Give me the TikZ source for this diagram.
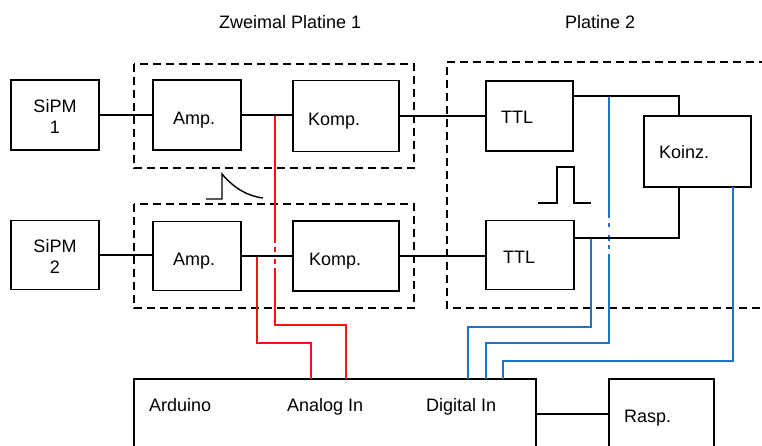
\documentclass[tikz,border=0pt]{standalone}
\usepackage{fontspec}
\setmainfont{Liberation Sans}
\usetikzlibrary{calc}
\definecolor{sigred}{RGB}{245,20,20}
\definecolor{sigblue}{RGB}{30,115,200}
\begin{document}
\begin{tikzpicture}[x=1pt,y=-1pt,
  box/.style={draw, line width=1.6pt, inner sep=0pt, outer sep=0pt},
  wire/.style={line width=1.6pt},
  frame/.style={line width=1.4pt, dash pattern=on 8pt off 5pt},
  rwire/.style={line width=1.6pt, draw=sigred},
  bwire/.style={line width=1.6pt, draw=sigblue},
  pulse/.style={line width=1.4pt},
  lbl/.style={inner sep=0pt, anchor=base west, font=\fontsize{18}{20}\selectfont},
  clbl/.style={inner sep=0pt, anchor=base, font=\fontsize{18}{20}\selectfont},
]
\useasboundingbox (0,0) rectangle (762,445);
\clip (0,0) rectangle (762,445);

% boxes
\node[box, minimum width=88pt, minimum height=70pt] (sipm1) at (55,115) {};
\node[box, minimum width=88pt, minimum height=70pt] (amp1) at (197,115) {};
\node[box, minimum width=106pt, minimum height=71pt] (komp1) at (346,116) {};
\node[box, minimum width=87pt, minimum height=70pt] (ttl1) at (529.5,116) {};
\node[box, minimum width=107pt, minimum height=71pt] (koinz) at (697.5,151.5) {};
\node[box, minimum width=88pt, minimum height=69pt] (sipm2) at (55,255) {};
\node[box, minimum width=88pt, minimum height=69pt] (amp2) at (197,256) {};
\node[box, minimum width=106pt, minimum height=70pt] (komp2) at (346,256) {};
\node[box, minimum width=88pt, minimum height=69pt] (ttl2) at (530,255) {};
\node[box, minimum width=402pt, minimum height=82pt] (arduino) at (335,420) {};
\node[box, minimum width=105pt, minimum height=82pt] (rasp) at (661.5,420) {};

% dashed frames
\draw[frame] (134,64) rectangle (414,168);
\draw[frame] (134,204) rectangle (414,308);
\draw[frame] (780,62) -- (447,62) -- (447,308) -- (780,308);

% helper coordinates
\coordinate (t1o) at (573,96);
\coordinate (t2o) at (574,238);
\coordinate (kin1) at ($(koinz.north west)+(35,0)$);
\coordinate (kin2) at ($(koinz.south west)+(35,0)$);
\coordinate (kout) at ($(koinz.south west)+(89,0)$);
\coordinate (ar) at (536,414);
\coordinate (ra) at (609,414);
\coordinate (ain1) at ($(arduino.north west)+(212,0)$);
\coordinate (ain2) at ($(arduino.north west)+(177,0)$);
\coordinate (din1) at ($(arduino.north west)+(334,0)$);
\coordinate (din2) at ($(arduino.north west)+(352,0)$);
\coordinate (din3) at ($(arduino.north west)+(369,0)$);
\coordinate (r1) at (275,116);
\coordinate (r2) at (257,256);
\coordinate (b1) at (609,96);
\coordinate (b2) at (591,238);

% red signal lines
\draw[rwire] (r1) -- (275,243);
\draw[rwire] (275,247) -- (275,252) (275,259) -- (275,264);
\draw[rwire] (275,268) |- (346,325) -- (ain1);
\draw[rwire] (r2) |- (311,343) -- (ain2);

% blue signal lines
\draw[bwire] (b1) -- (609,218);
\draw[bwire] (609,223) -- (609,227) (609,235) -- (609,241) (609,245) -- (609,249);
\draw[bwire] (609,254) |- (486,343) -- (din2);
\draw[bwire] (b2) |- (468,327) -- (din1);
\draw[bwire] (kout) |- (503,361) -- (din3);

% black connectors
\draw[wire] (sipm1.east) -- (amp1.west);
\draw[wire] (amp1.east) -- (amp1.east -| komp1.west);
\draw[wire] (komp1.east) -- (komp1.east -| ttl1.west);
\draw[wire] (t1o) -| (kin1);
\draw[wire] (t2o) -| (kin2);
\draw[wire] (sipm2.east) -- (sipm2.east -| amp2.west);
\draw[wire] (amp2.east) -- (amp2.east -| komp2.west);
\draw[wire] (komp2.east) -- (komp2.east -| ttl2.west);
\draw[wire] (ar) -- (ra);

% pulse sketches
\draw[pulse] (206,199) -- (222,199) -- (222,174) .. controls (234,188) and (247,196) .. (263,198);
\draw[pulse] (538,203) -- (557,203) -- (557,167) -- (574,167) -- (574,203) -- (591,203);

% labels
\node[lbl] (tz) at (219,28) {Zweimal Platine 1};
\node[lbl] (tp) at (565,28) {Platine 2};
\node[clbl] (ls1a) at (55,112) {SiPM};
\node[clbl] (ls1b) at (55,133) {1};
\node[clbl] (ls2a) at (55,252) {SiPM};
\node[clbl] (ls2b) at (55,273) {2};
\node[lbl] (la1) at (173,124) {Amp.};
\node[lbl] (lk1) at (308,125) {Komp.};
\node[lbl] (lt1) at (501,123) {TTL};
\node[lbl] (lko) at (659,158) {Koinz.};
\node[lbl] (la2) at (173,265) {Amp.};
\node[lbl] (lk2) at (309,265) {Komp.};
\node[lbl] (lt2) at (503,263) {TTL};
\node[lbl] (lar) at (149,411) {Arduino};
\node[lbl] (lan) at (287,411) {Analog In};
\node[lbl] (ldi) at (426,411) {Digital In};
\node[lbl] (lra) at (624,422) {Rasp.};
\end{tikzpicture}
\end{document}
